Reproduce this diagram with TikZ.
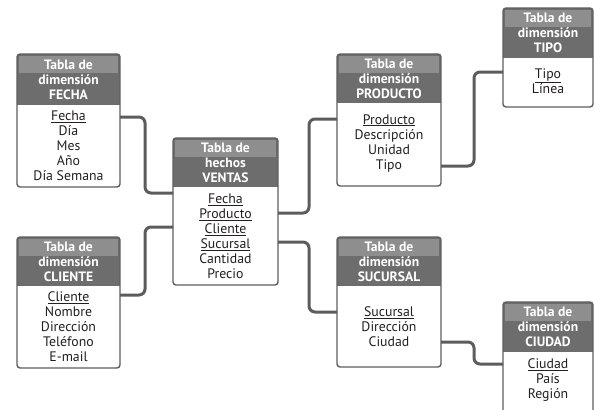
\documentclass[tikz,border=0pt]{standalone}
\usepackage{fontspec}
\setmainfont{PT Sans}
\definecolor{hdark}{HTML}{6D6D6D}
\definecolor{hlight}{HTML}{8E8E8E}
\definecolor{bord}{HTML}{5E5E5E}
\definecolor{conncol}{HTML}{5C5C5C}
\definecolor{bodytxt}{HTML}{231F20}
\tikzset{
  tbox/.style={fill=white, draw=none, inner sep=0pt, outer sep=0pt, anchor=north west},
  tborder/.style={draw=bord, line width=1.4pt, rounded corners=3pt},
  htext/.style={text=white, font=\bfseries\fontsize{13.6}{15}\selectfont, align=center, inner sep=0pt},
  btext/.style={text=bodytxt, font=\fontsize{13.8}{15}\selectfont, align=center, inner sep=0pt},
  conn/.style={draw=conncol, line width=3pt, rounded corners=6pt},
}
% #1 name, #2 x left, #3 y top, #4 x right, #5 y header bottom, #6 y bottom, #7 header, #8 body, #9 body centre y
\newcommand{\dbtable}[9]{%
  \node[tbox, minimum width={#4-#2}, minimum height={#6-#3}] (#1) at (#2,#3) {};
  \begin{scope}
    \clip[rounded corners=3pt] (#2,#3) rectangle (#4,#6);
    \fill[hdark] (#2,#3) rectangle (#4,#5);
    \fill[hlight] (#2+2,#3+2) rectangle (#4-2,#3+19);
  \end{scope}
  \draw[tborder] (#2,#3) rectangle (#4,#6);
  \node[htext] (#1-h) at ({(#2+#4)/2},{(#3+#5)/2}) {#7};
  \node[btext] (#1-b) at ({(#2+#4)/2},#9) {#8};
}
\begin{document}
\begin{tikzpicture}[x=1pt,y=-1pt]
\useasboundingbox (0,0) rectangle (595,410);
\clip (0,0) rectangle (595,410);

\dbtable{fecha}{17}{54}{120}{105}{187}{Tabla de\\dimensión\\FECHA}{\underline{Fecha}\\Día\\Mes\\Año\\Día Semana}{146}
\dbtable{cliente}{17}{237}{120}{286}{368}{Tabla de\\dimensión\\CLIENTE}{\underline{Cliente}\\Nombre\\Dirección\\Teléfono\\E-mail}{327}
\dbtable{ventas}{173}{138}{278}{187}{285}{Tabla de\\hechos\\VENTAS}{\underline{Fecha}\\\underline{Producto}\\\underline{Cliente}\\\underline{Sucursal}\\Cantidad\\Precio}{236}
\dbtable{producto}{337}{54}{441}{103}{186}{Tabla de\\dimensión\\PRODUCTO}{\underline{Producto}\\Descripción\\Unidad\\Tipo}{143}
\dbtable{sucursal}{337}{237}{441}{286}{367}{Tabla de\\dimensión\\SUCURSAL}{\underline{Sucursal}\\Dirección\\Ciudad}{327}
\dbtable{tipo}{503}{8}{593}{58}{107}{Tabla de\\dimensión\\TIPO}{\underline{Tipo}\\Línea}{81}
\dbtable{ciudad}{503}{302}{593}{352}{418}{Tabla de\\dimensión\\CIUDAD}{\underline{Ciudad}\\País\\Región}{380}

\draw[conn] (fecha.east |- 0,117) -- (145,117) |- (ventas.west |- 0,193);
\draw[conn] (cliente.east |- 0,295) -- (145,295) |- (ventas.west |- 0,227);
\draw[conn] (ventas.east |- 0,213) -- (309,213) |- (producto.west |- 0,119);
\draw[conn] (ventas.east |- 0,242) -- (309,242) |- (sucursal.west |- 0,312);
\draw[conn] (producto.east |- 0,166) -- (474,166) |- (tipo.west |- 0,72);
\draw[conn] (sucursal.east |- 0,342) -- (474,342) |- (ciudad.west |- 0,364);
\end{tikzpicture}
\end{document}
